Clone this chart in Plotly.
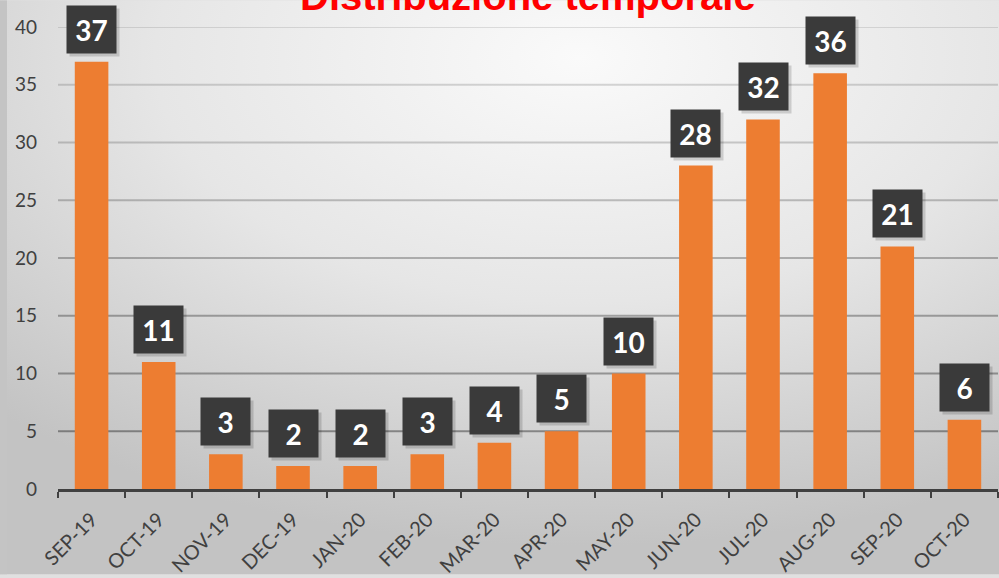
import base64
import plotly.graph_objects as go

# dati
mesi = ["SEP-19", "OCT-19", "NOV-19", "DEC-19", "JAN-20", "FEB-20", "MAR-20",
        "APR-20", "MAY-20", "JUN-20", "JUL-20", "AUG-20", "SEP-20", "OCT-20"]
conteggi = [37, 11, 3, 2, 2, 3, 4, 5, 10, 28, 32, 36, 21, 6]
tick_y = [0, 5, 10, 15, 20, 25, 30, 35, 40]

W, H = 999, 578
L, R, T, B = 58, 1, 27, 86
pw, ph = W - L - R, H - T - B

# sfondo con gradiente radiale (svg inline)
svg = f'''<svg xmlns="http://www.w3.org/2000/svg" width="{W}" height="{H}">
<defs><radialGradient id="g" cx="0.58" cy="0.1" r="0.85">
<stop offset="0" stop-color="#fafafa"/>
<stop offset="0.5" stop-color="#e6e6e6"/>
<stop offset="1" stop-color="#c3c3c3"/>
</radialGradient></defs>
<rect width="{W}" height="{H}" fill="url(#g)"/>
<rect width="7" height="{H}" fill="#c4c4c4"/>
</svg>'''
sfondo = "data:image/svg+xml;base64," + base64.b64encode(svg.encode()).decode()

fig = go.Figure()

fig.add_trace(go.Bar(x=mesi, y=conteggi, marker=dict(color="#ED7D31", line=dict(width=0)),
                     hoverinfo="x+y"))

# griglia: più scura verso il basso, come nell'originale
griglia = []
for v in tick_y[1:]:
    a = 0.11 + 0.3 * (1 - v / 40)
    griglia.append(dict(type="line", xref="paper", yref="y", x0=0, x1=1, y0=v, y1=v,
                        line=dict(color=f"rgba(0,0,0,{a:.2f})", width=2), layer="below"))

annotazioni = []
for m, v in zip(mesi, conteggi):
    # ombra
    annotazioni.append(dict(x=m, y=v, xref="x", yref="y", text=" ", showarrow=False,
                            yanchor="bottom", yshift=5, xshift=3, width=45, height=43,
                            borderpad=2, bgcolor="rgba(0,0,0,0.15)"))
    annotazioni.append(dict(x=m, y=v, xref="x", yref="y", text=f"<b>{v}</b>", showarrow=False,
                            yanchor="bottom", yshift=8, width=45, height=43, borderpad=2,
                            bgcolor="#3a3a3a",
                            font=dict(family="Lato", size=28, color="white")))

annotazioni.append(dict(x=0.5, y=1, xref="paper", yref="paper", yanchor="bottom",
                        yshift=7, showarrow=False,
                        text="<b>Distribuzione temporale</b>",
                        font=dict(family="Liberation Sans", size=40, color="#ff0000")))

fig.update_layout(
    width=W, height=H,
    margin=dict(l=L, r=R, t=T, b=B),
    paper_bgcolor="#e0e0e0", plot_bgcolor="rgba(0,0,0,0)",
    showlegend=False,
    bargap=0.5,
    annotations=annotazioni,
    shapes=griglia,
    images=[dict(source=sfondo, xref="paper", yref="paper",
                 x=-L / pw, y=1 + T / ph, sizex=W / pw, sizey=H / ph,
                 xanchor="left", yanchor="top", sizing="stretch", layer="below")],
    font=dict(family="Lato", color="#404040"),
)

fig.update_xaxes(tickangle=-45, tickfont=dict(size=20, color="#404040"),
                 showline=True, linecolor="#404040", linewidth=3,
                 ticks="outside", tickson="boundaries", ticklen=6, tickwidth=2,
                 tickcolor="#404040", showgrid=False, ticklabelstandoff=8)
fig.update_yaxes(range=[0, 40], tickvals=tick_y, tickfont=dict(size=19, color="#404040"),
                 showgrid=False, zeroline=False, showline=False, ticklabelstandoff=20)

# niente margine della pagina, niente barra strumenti
fig.write_html("out.html", config={"displayModeBar": False},
               post_script="document.body.style.margin='0';")
